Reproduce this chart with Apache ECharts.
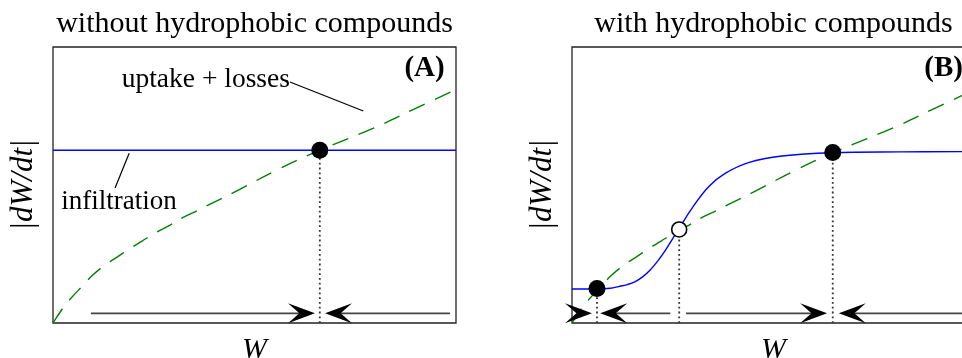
<!DOCTYPE html>
<html>
<head>
<meta charset="utf-8">
<script src="https://cdn.jsdelivr.net/npm/echarts@6/dist/echarts.min.js"></script>
<style>html,body{margin:0;padding:0;background:#fff}#c{width:962px;height:358px}</style>
</head>
<body>
<div id="c"></div>
<script>
// ---- data (W and |dW/dt| in axis units 0..1) ----
const titles = ['without hydrophobic compounds', 'with hydrophobic compounds'];
const panelTags = ['(A)', '(B)'];
const tagPos = [0.922, 0.922];
const xName = 'W';
const yName = '|dW/dt|';

// uptake + losses (same curve in both panels)
const lossW    = [0, 0.026, 0.044, 0.075, 0.096, 0.129, 0.158, 0.191, 0.220, 0.257, 0.286, 0.323, 0.352, 0.390, 0.450, 0.555, 0.662, 0.800, 0.900, 1.000];
const lossRate = [0, 0.057, 0.089, 0.137, 0.170, 0.210, 0.238, 0.270, 0.296, 0.329, 0.351, 0.383, 0.403, 0.431, 0.474, 0.554, 0.626, 0.709, 0.778, 0.846];

// infiltration
const infAW    = [0, 1];
const infARate = [0.626, 0.626];
const infBW    = [0, 0.062, 0.095, 0.116, 0.137, 0.157, 0.176, 0.194, 0.213, 0.232, 0.265, 0.298, 0.339, 0.380, 0.438, 0.521, 0.645, 0.815, 1.000];
const infBRate = [0.123, 0.123, 0.126, 0.132, 0.139, 0.150, 0.168, 0.192, 0.225, 0.264, 0.341, 0.416, 0.494, 0.542, 0.581, 0.605, 0.617, 0.620, 0.621];

// fixed points
const stableA   = [[0.662, 0.626]];
const stableB   = [[0.062, 0.125], [0.647, 0.618]];
const unstableB = [[0.266, 0.339]];

// flow arrows on the W axis
const arrowRate = 0.035;
const shaftsA = [[0.094, 0.640], [0.690, 0.985]];
const rightTipsA = [0.650];
const leftTipsA  = [0.675];
const shaftsB = [[0.090, 0.244], [0.283, 0.620], [0.680, 1.000]];
const rightTipsB = [0.0496, 0.633];
const leftTipsB  = [0.070, 0.662];

// annotations (panel A)
const upLabel = ['uptake + losses', 0.588, 0.880];
const upLeader = [[0.588, 0.873], [0.770, 0.768]];
const infLabel = ['infiltration', 0.164, 0.437];
const infLeader = [[0.154, 0.489], [0.189, 0.615]];

// ---- build ----
const zip = (xs, ys) => xs.map((x, i) => [x, ys[i]]);
const SERIF = '"Liberation Serif", "DejaVu Serif", serif';
const RIGHT_HEAD = 'path://M26,9.5 L0,0 L11,9.5 L0,19 Z';
const LEFT_HEAD  = 'path://M0,9.5 L26,0 L15,9.5 L26,19 Z';

function panelSeries(idx, infPts, stable, unstable, shafts, rTips, lTips) {
  const ax = {xAxisIndex: idx, yAxisIndex: idx};
  const s = [];
  const fixed = stable.concat(unstable);
  fixed.forEach(p => s.push(Object.assign({
    type: 'line', data: [[p[0], 0], p], symbol: 'none', silent: true, z: 2,
    lineStyle: {color: '#333', width: 1.8, type: [1.8, 3]}
  }, ax)));
  shafts.forEach(sh => s.push(Object.assign({
    type: 'line', data: [[sh[0], arrowRate], [sh[1], arrowRate]], symbol: 'none', silent: true, z: 2,
    lineStyle: {color: '#444', width: 1.7}
  }, ax)));
  s.push(Object.assign({
    type: 'line', data: zip(lossW, lossRate), symbol: 'none', smooth: 0.4, z: 3,
    lineStyle: {color: '#008000', width: 1.4, type: [17, 11]}
  }, ax));
  s.push(Object.assign({
    type: 'line', data: infPts, symbol: 'none', smooth: 0.4, z: 3,
    lineStyle: {color: '#0000ff', width: 1.4}
  }, ax));
  s.push(Object.assign({
    type: 'scatter', data: rTips.map(t => [t, arrowRate]), symbol: RIGHT_HEAD,
    symbolSize: [27, 20], symbolOffset: [-13.5, 0], clip: false, z: 5,
    itemStyle: {color: '#000', opacity: 1}
  }, ax));
  s.push(Object.assign({
    type: 'scatter', data: lTips.map(t => [t, arrowRate]), symbol: LEFT_HEAD,
    symbolSize: [27, 20], symbolOffset: [13.5, 0], clip: false, z: 5,
    itemStyle: {color: '#000', opacity: 1}
  }, ax));
  s.push(Object.assign({
    type: 'scatter', data: stable, symbol: 'circle', symbolSize: 17, z: 6,
    itemStyle: {color: '#000', opacity: 1}
  }, ax));
  if (unstable.length) s.push(Object.assign({
    type: 'scatter', data: unstable, symbol: 'circle', symbolSize: 15, z: 6,
    itemStyle: {color: '#fff', borderColor: '#000', borderWidth: 1.6, opacity: 1}
  }, ax));
  s.push(Object.assign({
    type: 'scatter', data: [[tagPos[0], tagPos[1], panelTags[idx]]], symbolSize: 0, z: 7,
    itemStyle: {opacity: 1},
    label: {show: true, position: 'inside', formatter: p => p.data[2],
      fontFamily: SERIF, fontWeight: 'bold', fontSize: 29, color: '#000'}
  }, ax));
  return s;
}

const series = []
  .concat(panelSeries(0, zip(infAW, infARate), stableA, [], shaftsA, rightTipsA, leftTipsA))
  .concat(panelSeries(1, zip(infBW, infBRate), stableB, unstableB, shaftsB, rightTipsB, leftTipsB));

[upLeader, infLeader].forEach(l => series.push({
  type: 'line', data: l, symbol: 'none', xAxisIndex: 0, yAxisIndex: 0, z: 4,
  lineStyle: {color: '#000', width: 1.2}
}));
[upLabel, infLabel].forEach((l, i) => series.push({
  type: 'scatter', data: [[l[1], l[2], l[0]]], symbolSize: 0, xAxisIndex: 0, yAxisIndex: 0, z: 7,
  itemStyle: {opacity: 1},
  label: {show: true, position: 'inside', align: i === 0 ? 'right' : 'center', verticalAlign: 'middle',
    formatter: p => p.data[2], fontFamily: SERIF, fontSize: i === 0 ? 27.5 : 27, color: '#000'}
}));

const grids = [
  {left: 53, top: 47, width: 403, height: 276},
  {left: 572, top: 47, width: 403, height: 276}
];
const axisCommon = {
  type: 'value', min: 0, max: 1,
  axisLine: {show: false}, axisTick: {show: false}, axisLabel: {show: false}, splitLine: {show: false}
};
const option = {
  animation: false,
  backgroundColor: '#fff',
  title: titles.map((t, i) => ({
    text: t, left: grids[i].left + grids[i].width / 2, top: 9, textAlign: 'center', padding: 0,
    textStyle: {fontFamily: SERIF, fontWeight: 'normal', fontSize: 30, color: '#000'}
  })),
  grid: grids.map(g => Object.assign({show: true, outerBoundsMode: 'none', containLabel: false,
    borderColor: '#222', borderWidth: 1.3, backgroundColor: 'transparent'}, g)),
  xAxis: grids.map((g, i) => Object.assign({}, axisCommon, {
    gridIndex: i, name: xName, nameLocation: 'middle', nameGap: 12,
    nameTextStyle: {fontFamily: SERIF, fontStyle: 'italic', fontSize: 30, color: '#000', verticalAlign: 'top'}
  })),
  yAxis: grids.map((g, i) => Object.assign({}, axisCommon, {
    gridIndex: i, name: yName, nameLocation: 'middle', nameGap: 14,
    nameTextStyle: {fontFamily: SERIF, fontStyle: 'italic', fontSize: 31, color: '#000'}
  })),
  series: series
};
echarts.init(document.getElementById('c'), null, {renderer: 'canvas'}).setOption(option);
</script>
</body>
</html>
